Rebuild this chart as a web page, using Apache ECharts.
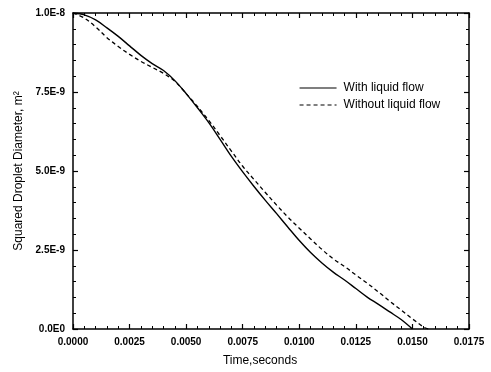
<!DOCTYPE html>
<html>
<head>
<meta charset="utf-8">
<script src="https://cdn.jsdelivr.net/npm/echarts@6/dist/echarts.min.js"></script>
<style>html,body{margin:0;padding:0;background:#fff}#c{width:491px;height:372px}</style>
</head>
<body>
<div id="c"></div>
<script>
// time in seconds
const timeSolid = [0,0.0005,0.0010,0.0015,0.0020,0.0025,0.0030,0.0035,0.0040,0.0045,0.0050,0.0055,0.0060,0.0065,0.0070,0.0075,0.0080,0.0085,0.0090,0.0095,0.0100,0.0105,0.0110,0.0115,0.0120,0.0125,0.0130,0.0135,0.0140,0.0145,0.0150];
// squared droplet diameter, units of 1e-9 m^2
const withFlow = [10.00,9.94,9.78,9.53,9.26,8.96,8.66,8.40,8.18,7.86,7.45,7.00,6.53,6.00,5.46,4.97,4.51,4.07,3.65,3.22,2.80,2.42,2.09,1.80,1.55,1.28,1.01,0.78,0.54,0.30,0.00];
const timeDashed = [0,0.0005,0.0010,0.0015,0.0020,0.0025,0.0030,0.0035,0.0040,0.0045,0.0050,0.0055,0.0060,0.0065,0.0070,0.0075,0.0080,0.0085,0.0090,0.0095,0.0100,0.0105,0.0110,0.0115,0.0120,0.0125,0.0130,0.0135,0.0140,0.0145,0.0150,0.0155,0.0157];
const withoutFlow = [10.00,9.84,9.56,9.22,8.94,8.69,8.47,8.28,8.09,7.84,7.45,7.04,6.60,6.12,5.63,5.15,4.73,4.32,3.92,3.54,3.19,2.85,2.52,2.22,1.98,1.71,1.45,1.17,0.88,0.60,0.32,0.06,0.00];
const yTickLabels = ["0.0E0","2.5E-9","5.0E-9","7.5E-9","1.0E-8"];
const seriesNames = ["With liquid flow","Without liquid flow"];

const font = "Liberation Sans, Arial, sans-serif";
const axisLine = {show:true, onZero:false, lineStyle:{color:'#000', width:1.5}};
const axisTick = {show:true, inside:true, length:5, lineStyle:{color:'#000', width:1.2}};
const minorTick = {show:true, splitNumber:5, length:3, lineStyle:{color:'#000', width:1}};

const chart = echarts.init(document.getElementById('c'), null, {renderer:'canvas'});
chart.setOption({
  backgroundColor:'#fff',
  animation:false,
  grid:{left:73, right:22, top:13, bottom:42},
  legend:{
    orient:'vertical', left:299, top:82, padding:0, itemWidth:37, itemHeight:10, itemGap:5,
    itemStyle:{opacity:0},
    lineStyle:{width:1.1},
    textStyle:{fontFamily:font, fontSize:12, color:'#000', padding:[0,0,0,2]},
    data:seriesNames
  },
  xAxis:[{
    type:'value', min:0, max:0.0175, interval:0.0025,
    name:'Time,seconds', nameLocation:'middle', nameGap:26,
    nameTextStyle:{fontFamily:font, fontSize:12, color:'#000', padding:[0,22,0,0]},
    axisLine, axisTick, minorTick,
    axisLabel:{fontFamily:font, fontSize:10, fontWeight:'bold', color:'#000', margin:8,
      formatter:v=>v.toFixed(4)},
    splitLine:{show:false}
  },{
    type:'value', position:'top', min:0, max:0.0175, interval:0.0025,
    axisLine, axisTick, minorTick, axisLabel:{show:false}, splitLine:{show:false}
  }],
  yAxis:[{
    type:'value', min:0, max:10, interval:2.5,
    name:'Squared Droplet Diameter, m²', nameLocation:'middle', nameGap:45,
    nameTextStyle:{fontFamily:font, fontSize:12, color:'#000'},
    axisLine, axisTick, minorTick,
    axisLabel:{fontFamily:font, fontSize:10, fontWeight:'bold', color:'#000', margin:8,
      formatter:v=>yTickLabels[Math.round(v/2.5)]},
    splitLine:{show:false}
  },{
    type:'value', position:'right', min:0, max:10, interval:2.5,
    axisLine, axisTick, minorTick, axisLabel:{show:false}, splitLine:{show:false}
  }],
  series:[{
    name:seriesNames[0], type:'line', symbol:'none', smooth:0.35,
    data:timeSolid.map((t,i)=>[t,withFlow[i]]),
    lineStyle:{color:'#000', width:1.4, type:'solid'}, itemStyle:{color:'#000'}
  },{
    name:seriesNames[1], type:'line', symbol:'none', smooth:0.35,
    data:timeDashed.map((t,i)=>[t,withoutFlow[i]]),
    lineStyle:{color:'#000', width:1.3, type:[4,3]}, itemStyle:{color:'#000'}
  }]
});
</script>
</body>
</html>
